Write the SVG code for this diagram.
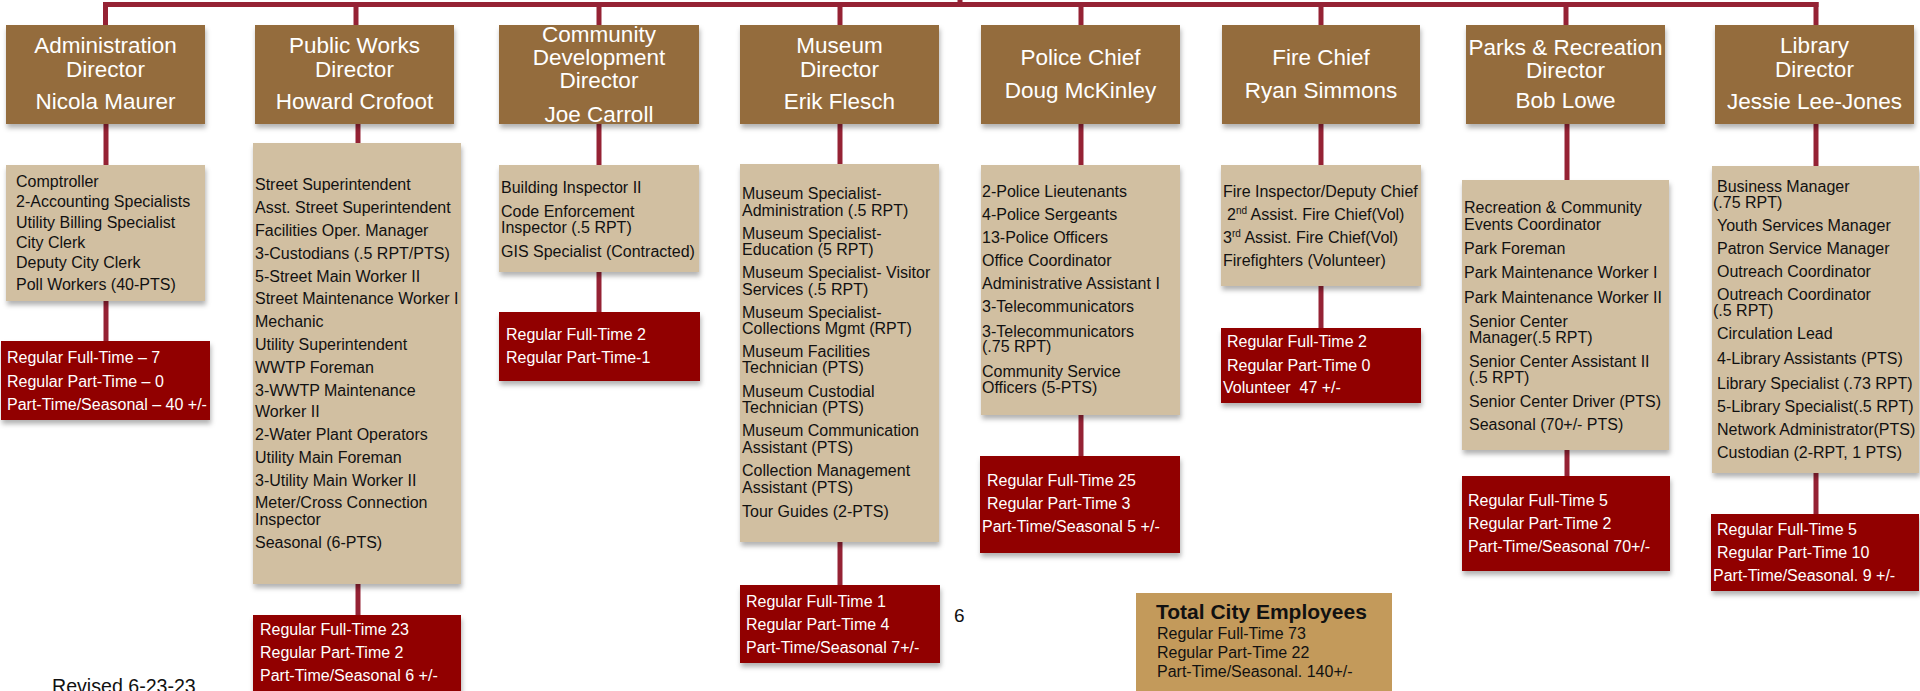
<svg xmlns="http://www.w3.org/2000/svg" width="1920" height="691" viewBox="0 0 1920 691">
<defs>
<filter id="sh" x="-5%" y="-5%" width="115%" height="125%">
<feDropShadow dx="1" dy="4" stdDeviation="2.5" flood-color="#000" flood-opacity="0.3"/>
</filter>
<style>
text{font-family:"Liberation Sans",Arial,Helvetica,sans-serif}
.hdr{fill:#946c3e;filter:url(#sh)}
.cnt{fill:#d1bfa1;filter:url(#sh)}
.red{fill:#910000;filter:url(#sh)}
.ht{font-size:22.5px;fill:#fff;text-anchor:middle}
.ct{font-size:16px;fill:#111}
.rt{font-size:16px;fill:#fff}
.conn line{stroke:#952234;stroke-width:5;stroke-linecap:butt}
.sup{font-size:10px}
</style>
</defs>
<rect width="1920" height="691" fill="#fff"/>

<g id="connectors" class="conn">
<line x1="103" y1="4.5" x2="1818.5" y2="4.5"/>
<line x1="960" y1="0" x2="960" y2="5"/>
<line x1="105.5" y1="4.5" x2="105.5" y2="26"/>
<line x1="356" y1="4.5" x2="356" y2="26"/>
<line x1="599" y1="4.5" x2="599" y2="26"/>
<line x1="840" y1="4.5" x2="840" y2="26"/>
<line x1="1081" y1="4.5" x2="1081" y2="26"/>
<line x1="1321" y1="4.5" x2="1321" y2="26"/>
<line x1="1566" y1="4.5" x2="1566" y2="26"/>
<line x1="1816" y1="2" x2="1816" y2="26"/>
<line x1="106" y1="124" x2="106" y2="165"/>
<line x1="358" y1="124" x2="358" y2="143"/>
<line x1="599" y1="124" x2="599" y2="165"/>
<line x1="840" y1="124" x2="840" y2="164"/>
<line x1="1081" y1="124" x2="1081" y2="165"/>
<line x1="1321" y1="124" x2="1321" y2="165"/>
<line x1="1567" y1="124" x2="1567" y2="180"/>
<line x1="1816" y1="124" x2="1816" y2="166"/>
<line x1="106" y1="301" x2="106" y2="341"/>
<line x1="358" y1="584" x2="358" y2="615"/>
<line x1="599" y1="272" x2="599" y2="312"/>
<line x1="840" y1="542" x2="840" y2="585"/>
<line x1="1081" y1="415" x2="1081" y2="456"/>
<line x1="1321" y1="286" x2="1321" y2="328"/>
<line x1="1567" y1="450" x2="1567" y2="476"/>
<line x1="1816" y1="473" x2="1816" y2="514"/>
</g>

<g id="admin">
<rect class="hdr" x="6" y="25" width="199" height="99"/>
<text class="ht"><tspan x="105.5" y="53">Administration</tspan><tspan x="105.5" y="77">Director</tspan><tspan x="105.5" y="109">Nicola Maurer</tspan></text>
<rect class="cnt" x="6" y="165" width="199" height="136"/>
<text class="ct"><tspan x="16" y="187">Comptroller</tspan><tspan x="16" y="207">2-Accounting Specialists</tspan><tspan x="16" y="228">Utility Billing Specialist</tspan><tspan x="16" y="248">City Clerk</tspan><tspan x="16" y="268">Deputy City Clerk</tspan><tspan x="16" y="290">Poll Workers (40-PTS)</tspan></text>
<rect class="red" x="1" y="341" width="209" height="79"/>
<text class="rt"><tspan x="7" y="363">Regular Full-Time – 7</tspan><tspan x="7" y="387">Regular Part-Time – 0</tspan><tspan x="7" y="410">Part-Time/Seasonal – 40 +/-</tspan></text>
</g>

<g id="publicworks">
<rect class="hdr" x="255" y="25" width="199" height="99"/>
<text class="ht"><tspan x="354.5" y="53">Public Works</tspan><tspan x="354.5" y="77">Director</tspan><tspan x="354.5" y="109">Howard Crofoot</tspan></text>
<rect class="cnt" x="253" y="143" width="208" height="441"/>
<text class="ct"><tspan x="255" y="190">Street Superintendent</tspan><tspan x="255" y="213">Asst. Street Superintendent</tspan><tspan x="255" y="236">Facilities Oper. Manager</tspan><tspan x="255" y="259">3-Custodians (.5 RPT/PTS)</tspan><tspan x="255" y="282">5-Street Main Worker II</tspan><tspan x="255" y="304">Street Maintenance Worker I</tspan><tspan x="255" y="327">Mechanic</tspan><tspan x="255" y="350">Utility Superintendent</tspan><tspan x="255" y="373">WWTP Foreman</tspan><tspan x="255" y="396">3-WWTP Maintenance</tspan><tspan x="255" y="417">Worker II</tspan><tspan x="255" y="440">2-Water Plant Operators</tspan><tspan x="255" y="463">Utility Main Foreman</tspan><tspan x="255" y="486">3-Utility Main Worker II</tspan><tspan x="255" y="508">Meter/Cross Connection</tspan><tspan x="255" y="525">Inspector</tspan><tspan x="255" y="548">Seasonal (6-PTS)</tspan></text>
<rect class="red" x="253" y="615" width="208" height="82"/>
<text class="rt"><tspan x="260" y="635">Regular Full-Time 23</tspan><tspan x="260" y="658">Regular Part-Time 2</tspan><tspan x="260" y="681">Part-Time/Seasonal 6 +/-</tspan></text>
</g>

<g id="communitydev">
<rect class="hdr" x="499" y="25" width="200" height="99"/>
<text class="ht"><tspan x="599" y="42">Community</tspan><tspan x="599" y="65">Development</tspan><tspan x="599" y="88">Director</tspan><tspan x="599" y="122">Joe Carroll</tspan></text>
<rect class="cnt" x="499" y="165" width="200" height="107"/>
<text class="ct"><tspan x="501" y="193">Building Inspector II</tspan><tspan x="501" y="217">Code Enforcement</tspan><tspan x="501" y="233">Inspector (.5 RPT)</tspan><tspan x="501" y="257">GIS Specialist (Contracted)</tspan></text>
<rect class="red" x="499" y="312" width="201" height="69"/>
<text class="rt"><tspan x="506" y="340">Regular Full-Time 2</tspan><tspan x="506" y="363">Regular Part-Time-1</tspan></text>
</g>

<g id="museum">
<rect class="hdr" x="740" y="25" width="199" height="99"/>
<text class="ht"><tspan x="839.5" y="53">Museum</tspan><tspan x="839.5" y="77">Director</tspan><tspan x="839.5" y="109">Erik Flesch</tspan></text>
<rect class="cnt" x="740" y="164" width="199" height="378"/>
<text class="ct"><tspan x="742" y="199">Museum Specialist-</tspan><tspan x="742" y="216">Administration (.5 RPT)</tspan><tspan x="742" y="239">Museum Specialist-</tspan><tspan x="742" y="255">Education (5 RPT)</tspan><tspan x="742" y="278">Museum Specialist- Visitor</tspan><tspan x="742" y="295">Services (.5 RPT)</tspan><tspan x="742" y="318">Museum Specialist-</tspan><tspan x="742" y="334">Collections Mgmt (RPT)</tspan><tspan x="742" y="357">Museum Facilities</tspan><tspan x="742" y="373">Technician (PTS)</tspan><tspan x="742" y="397">Museum Custodial</tspan><tspan x="742" y="413">Technician (PTS)</tspan><tspan x="742" y="436">Museum Communication</tspan><tspan x="742" y="453">Assistant (PTS)</tspan><tspan x="742" y="476">Collection Management</tspan><tspan x="742" y="493">Assistant (PTS)</tspan><tspan x="742" y="517">Tour Guides (2-PTS)</tspan></text>
<rect class="red" x="740" y="585" width="200" height="78"/>
<text class="rt"><tspan x="746" y="607">Regular Full-Time 1</tspan><tspan x="746" y="630">Regular Part-Time 4</tspan><tspan x="746" y="653">Part-Time/Seasonal 7+/-</tspan></text>
</g>

<g id="police">
<rect class="hdr" x="981" y="25" width="199" height="99"/>
<text class="ht"><tspan x="1080.5" y="65">Police Chief</tspan><tspan x="1080.5" y="98">Doug McKinley</tspan></text>
<rect class="cnt" x="981" y="165" width="199" height="250"/>
<text class="ct"><tspan x="982" y="197">2-Police Lieutenants</tspan><tspan x="982" y="220">4-Police Sergeants</tspan><tspan x="982" y="243">13-Police Officers</tspan><tspan x="982" y="266">Office Coordinator</tspan><tspan x="982" y="289">Administrative Assistant I</tspan><tspan x="982" y="312">3-Telecommunicators</tspan><tspan x="982" y="337">3-Telecommunicators</tspan><tspan x="982" y="352">(.75 RPT)</tspan><tspan x="982" y="377">Community Service</tspan><tspan x="982" y="393">Officers (5-PTS)</tspan></text>
<rect class="red" x="980" y="456" width="200" height="97"/>
<text class="rt"><tspan x="987" y="486">Regular Full-Time 25</tspan><tspan x="987" y="509">Regular Part-Time 3</tspan><tspan x="982" y="532">Part-Time/Seasonal 5 +/-</tspan></text>
</g>

<g id="fire">
<rect class="hdr" x="1222" y="25" width="198" height="99"/>
<text class="ht"><tspan x="1321" y="65">Fire Chief</tspan><tspan x="1321" y="98">Ryan Simmons</tspan></text>
<rect class="cnt" x="1221" y="165" width="200" height="121"/>
<text class="ct"><tspan x="1223" y="197">Fire Inspector/Deputy Chief</tspan><tspan x="1227" y="220">2<tspan class="sup" dy="-6">nd</tspan><tspan dy="6"> Assist. Fire Chief(Vol)</tspan></tspan><tspan x="1223" y="243">3<tspan class="sup" dy="-6">rd</tspan><tspan dy="6"> Assist. Fire Chief(Vol)</tspan></tspan><tspan x="1223" y="266">Firefighters (Volunteer)</tspan></text>
<rect class="red" x="1221" y="328" width="200" height="75"/>
<text class="rt"><tspan x="1227" y="347">Regular Full-Time 2</tspan><tspan x="1227" y="371">Regular Part-Time 0</tspan><tspan x="1223" y="393">Volunteer&#160; 47 +/-</tspan></text>
</g>

<g id="parks">
<rect class="hdr" x="1466" y="25" width="199" height="99"/>
<text class="ht"><tspan x="1565.5" y="55">Parks &amp; Recreation</tspan><tspan x="1565.5" y="78">Director</tspan><tspan x="1565.5" y="108">Bob Lowe</tspan></text>
<rect class="cnt" x="1462" y="180" width="207" height="270"/>
<text class="ct"><tspan x="1464" y="213">Recreation &amp; Community</tspan><tspan x="1464" y="230">Events Coordinator</tspan><tspan x="1464" y="254">Park Foreman</tspan><tspan x="1464" y="278">Park Maintenance Worker I</tspan><tspan x="1464" y="303">Park Maintenance Worker II</tspan><tspan x="1469" y="327">Senior Center</tspan><tspan x="1469" y="343">Manager(.5 RPT)</tspan><tspan x="1469" y="367">Senior Center Assistant II</tspan><tspan x="1469" y="383">(.5 RPT)</tspan><tspan x="1469" y="407">Senior Center Driver (PTS)</tspan><tspan x="1469" y="430">Seasonal (70+/- PTS)</tspan></text>
<rect class="red" x="1462" y="476" width="208" height="95"/>
<text class="rt"><tspan x="1468" y="506">Regular Full-Time 5</tspan><tspan x="1468" y="529">Regular Part-Time 2</tspan><tspan x="1468" y="552">Part-Time/Seasonal 70+/-</tspan></text>
</g>

<g id="library">
<rect class="hdr" x="1715" y="25" width="199" height="99"/>
<text class="ht"><tspan x="1814.5" y="53">Library</tspan><tspan x="1814.5" y="77">Director</tspan><tspan x="1814.5" y="109">Jessie Lee-Jones</tspan></text>
<rect class="cnt" x="1712" y="166" width="207" height="307"/>
<text class="ct"><tspan x="1717" y="192">Business Manager</tspan><tspan x="1713" y="208">(.75 RPT)</tspan><tspan x="1717" y="231">Youth Services Manager</tspan><tspan x="1717" y="254">Patron Service Manager</tspan><tspan x="1717" y="277">Outreach Coordinator</tspan><tspan x="1717" y="300">Outreach Coordinator</tspan><tspan x="1713" y="316">(.5 RPT)</tspan><tspan x="1717" y="339">Circulation Lead</tspan><tspan x="1717" y="364">4-Library Assistants (PTS)</tspan><tspan x="1717" y="389">Library Specialist (.73 RPT)</tspan><tspan x="1717" y="412">5-Library Specialist(.5 RPT)</tspan><tspan x="1717" y="435">Network Administrator(PTS)</tspan><tspan x="1717" y="458">Custodian (2-RPT, 1 PTS)</tspan></text>
<rect class="red" x="1711" y="514" width="208" height="77"/>
<text class="rt"><tspan x="1717" y="535">Regular Full-Time 5</tspan><tspan x="1717" y="558">Regular Part-Time 10</tspan><tspan x="1713" y="581">Part-Time/Seasonal. 9 +/-</tspan></text>
</g>

<g id="total">
<rect x="1136" y="593" width="256" height="100" fill="#c39a5b"/>
<text x="1156" y="619" font-size="21px" font-weight="bold" fill="#111">Total City Employees</text>
<text class="ct"><tspan x="1157" y="639">Regular Full-Time 73</tspan><tspan x="1157" y="658">Regular Part-Time 22</tspan><tspan x="1157" y="677">Part-Time/Seasonal. 140+/-</tspan></text>
</g>

<g id="notes">
<text x="954" y="622" font-size="19px" fill="#111">6</text>
<text x="52" y="693" font-size="19.6px" fill="#111">Revised 6-23-23</text>
</g>
</svg>
